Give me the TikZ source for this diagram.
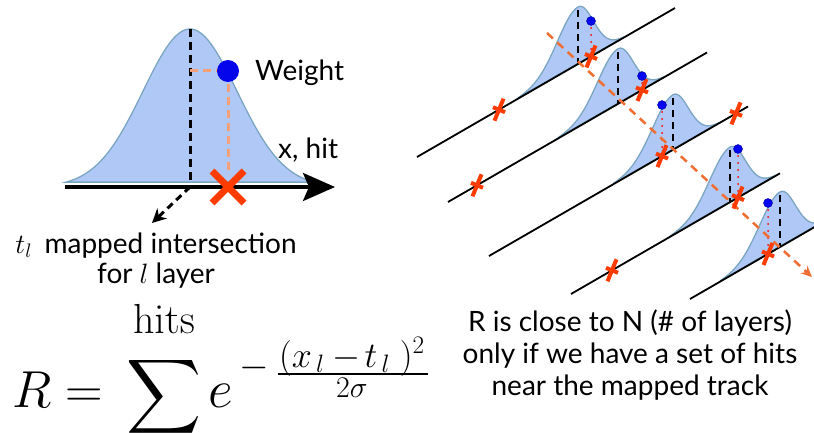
\RequirePackage{fix-cm}
\documentclass[tikz,border=0pt]{standalone}
\usepackage{amsmath}
\usepackage{graphicx}
\usepackage[no-math]{fontspec}
\setmainfont{Lato}
\usetikzlibrary{arrows.meta}
\definecolor{gfill}{RGB}{176,200,245}
\definecolor{gline}{RGB}{122,166,194}
\definecolor{wdot}{RGB}{5,5,235}
\definecolor{hitred}{RGB}{255,60,0}
\definecolor{salmon}{RGB}{245,160,120}
\definecolor{trackc}{RGB}{240,110,50}
\newcommand{\skewgauss}[3]{%
  \pgfmathsetmacro{\ga}{#1-60}\pgfmathsetmacro{\gb}{#1+46}%
  \filldraw[gauss] plot[domain=\ga:#1,samples=40] (\x,{#2-0.5774*(\x-#1)-#3*exp(-((\x-#1)^2)/840)})
    -- plot[domain=#1:\gb,samples=40] (\x,{#2-0.5774*(\x-#1)-#3*exp(-((\x-#1)^2)/460)}) -- cycle;}
\newcommand{\hitmark}[2]{%
  \draw[hitx] ({#1-6},{#2-2.5}) -- ({#1+6},{#2+2.5});
  \draw[hitx] ({#1-4.5},{#2+11}) -- ({#1+4.5},{#2-11});}
\begin{document}
\begin{tikzpicture}[x=1pt,y=-1pt,
  gauss/.style={fill=gfill,draw=gline,line width=1.3pt},
  axisline/.style={line width=3.5pt,-{Stealth[length=32pt,width=28pt,inset=6pt]}},
  blackdash/.style={line width=3pt,dash pattern=on 8pt off 5pt},
  blackdashs/.style={line width=2.2pt,dash pattern=on 7pt off 5pt},
  salmondash/.style={salmon,line width=3pt,dash pattern=on 8pt off 5pt},
  redx/.style={hitred,line width=7pt},
  hitx/.style={hitred,line width=4pt},
  layer/.style={line width=1.8pt},
  reddot/.style={red,line width=2pt,line cap=round,dash pattern=on 0pt off 7pt},
  tracks/.style={trackc,line width=2.5pt,dash pattern=on 8pt off 6pt,-{Stealth[length=11pt,width=10pt]}},
  lbl/.style={font=\fontsize{28}{30}\selectfont,inner sep=0pt},
  mathpart/.style={inner sep=0pt}]
\useasboundingbox (0,0) rectangle (814,433);
% ---------- left diagram ----------
\filldraw[gauss] plot[domain=66:314,samples=90] (\x,{187-158*exp(-((\x-190)^2)/4418)}) -- cycle;
\draw[blackdash] (190,29) -- (190,187);
\draw[salmondash] (190,71) -- (228,71);
\draw[salmondash] (228,71) -- (228,175);
\draw[axisline] (65,187) -- (335,187);
\draw[redx] (212,171) -- (244,203);
\draw[redx] (212,203) -- (244,171);
\fill[wdot] (228,71) circle (11);
\coordinate (tl) at (190,187);
\coordinate (tlend) at (152,223);
\draw[line width=3pt,dash pattern=on 7pt off 5pt,-{Stealth[length=14pt,width=14pt]}] (tl) -- (tlend);
\node[lbl,anchor=base west] (weight) at (255,81) {Weight};
\node[lbl,anchor=base west] (xhit) at (278,158) {x, hit};
\node[lbl,anchor=base,align=center] (tlabel) at (156,283) {$t_l$\hspace{0.45em}mapped intersection\\for $l$ layer};
% ---------- formula ----------
\node[mathpart,anchor=base west] (Req) at (12,407) {\fontsize{52}{60}\selectfont $R=$};
\node[mathpart] (sumsym) at (164.5,397) {\scalebox{5.2}{$\displaystyle\sum$}};
\node[mathpart,anchor=base] (hits) at (164,333) {\fontsize{42}{42}\selectfont $\mathrm{hits}$};
\node[mathpart,anchor=base west] (enode) at (208,407) {\fontsize{54}{60}\selectfont $e$};
\node[mathpart] (emin) at (254.5,368) {\fontsize{38}{40}\selectfont $-$};
\node[mathpart,anchor=base west] (enum) at (279,367) {\fontsize{36}{38}\selectfont $(x_{\,l}\mkern4mu{-}\mkern2mu t_{\,l}\mkern5mu)^{2}$};
\coordinate (barL) at (278,374);
\coordinate (barR) at (428,374);
\draw[line width=1.8pt] (barL) -- (barR);
\node[mathpart,anchor=base] (eden) at (352,397) {\fontsize{30}{32}\selectfont $2\sigma$};
% ---------- right diagram ----------
\skewgauss{578}{64}{57}
\skewgauss{618}{103.8}{55}
\skewgauss{673}{149.8}{55}
\skewgauss{730}{202.2}{55}
\skewgauss{780}{247}{55}
\draw[layer] (417,157) -- (675,8);
\draw[layer] (448,202) -- (707,52.5);
\draw[layer] (489,256) -- (748,106.5);
\draw[layer] (571,294) -- (780,173.3);
\draw[layer] (690,299) -- (814,227.4);
\draw[blackdashs] (578,10) -- (578,64);
\draw[blackdashs] (618,52) -- (618,103.8);
\draw[blackdashs] (673,98) -- (673,149.8);
\draw[blackdashs] (730,150) -- (730,202.2);
\draw[blackdashs] (780,195) -- (780,247);
\draw[reddot] (591,21) -- (591,56.5);
\draw[reddot] (642,76) -- (642,90);
\draw[reddot] (662,105) -- (662,156);
\draw[reddot] (738,149) -- (738,197.6);
\draw[reddot] (768,203) -- (768,254);
\coordinate (trackA) at (547,33);
\coordinate (trackB) at (812,277);
\draw[tracks] (trackA) -- (trackB);
\hitmark{591}{56.5}
\hitmark{642}{90}
\hitmark{662}{156.1}
\hitmark{738}{197.6}
\hitmark{768}{254}
\hitmark{499}{109.7}
\hitmark{477}{185.3}
\hitmark{736}{113.4}
\hitmark{612}{270.3}
\fill[wdot!70!blue,draw=blue!60!black,line width=0.4pt] (591,21) circle (4.5);
\fill[wdot!70!blue,draw=blue!60!black,line width=0.4pt] (642,76) circle (4.5);
\fill[wdot!70!blue,draw=blue!60!black,line width=0.4pt] (662,105) circle (4.5);
\fill[wdot!70!blue,draw=blue!60!black,line width=0.4pt] (738,149) circle (4.5);
\fill[wdot!70!blue,draw=blue!60!black,line width=0.4pt] (768,203) circle (4.5);
\node[lbl,anchor=base,align=center,font=\fontsize{28}{32}\selectfont] (rtext) at (630,395) {R is close to N (\# of layers)\\only if we have a set of hits\\near the mapped track};
\end{tikzpicture}
\end{document}
